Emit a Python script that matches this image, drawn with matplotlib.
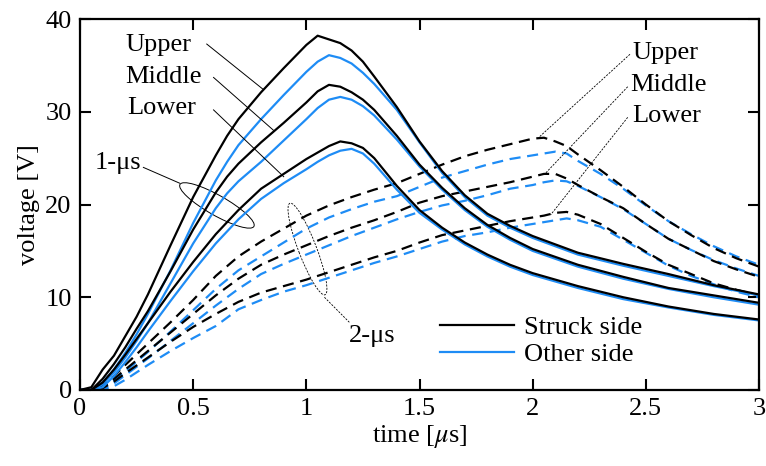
import matplotlib
matplotlib.use("Agg")
import matplotlib.pyplot as plt
from matplotlib.patches import Ellipse
from matplotlib.lines import Line2D
from matplotlib.transforms import IdentityTransform

plt.rcParams['font.family'] = ['Liberation Serif', 'DejaVu Serif']
plt.rcParams['mathtext.fontset'] = 'stix'
plt.rcParams['font.size'] = 19

BLACK = 'black'
BLUE = '#1e8cf5'

# ---- 1-us front (solid) ----
t_solid = [0, 0.05, 0.1, 0.15, 0.2, 0.25, 0.3, 0.4, 0.5, 0.6, 0.65, 0.7, 0.8, 0.9, 1.0,
           1.05, 1.1, 1.15, 1.2, 1.25, 1.3, 1.4, 1.5, 1.6, 1.7, 1.8, 1.9, 2.0,
           2.2, 2.4, 2.6, 2.8, 3.0]
struck_upper_1us = [0, 0.3, 2.2, 3.7, 5.8, 7.9, 10.3, 15.6, 20.8, 25.3, 27.4, 29.2, 32.1, 34.7, 37.2,
                    38.2, 37.8, 37.4, 36.6, 35.4, 33.8, 30.5, 26.8, 23.6, 21.0, 19.0, 17.7, 16.6,
                    14.8, 13.6, 12.5, 11.3, 10.3]
other_upper_1us = [0, 0, 0.8, 2.2, 4.0, 6.0, 8.2, 12.9, 18.0, 22.6, 24.6, 26.4, 29.2, 31.8, 34.3,
                   35.4, 36.1, 35.8, 35.2, 34.2, 33.0, 30.2, 26.7, 23.4, 20.8, 18.8, 17.5, 16.4,
                   14.6, 13.4, 12.3, 11.2, 10.2]
struck_middle_1us = [0, 0, 1.2, 2.8, 4.6, 6.6, 8.5, 12.8, 17.3, 21.3, 23.0, 24.4, 26.7, 28.8, 31.0,
                     32.2, 32.9, 32.7, 32.1, 31.3, 30.2, 27.4, 24.3, 21.8, 19.6, 17.8, 16.4, 15.2,
                     13.5, 12.2, 11.0, 10.2, 9.4]
other_middle_1us = [0, 0, 0.6, 1.9, 3.5, 5.3, 7.2, 11.5, 15.8, 19.6, 21.2, 22.5, 24.6, 26.9, 29.2,
                    30.4, 31.3, 31.6, 31.3, 30.6, 29.6, 27.0, 24.1, 21.6, 19.4, 17.6, 16.2, 15.0,
                    13.3, 12.0, 10.9, 10.0, 9.2]
struck_lower_1us = [0, 0, 0.8, 2.2, 3.8, 5.5, 7.2, 10.6, 13.8, 16.8, 18.1, 19.4, 21.7, 23.3, 24.9,
                    25.6, 26.3, 26.8, 26.6, 26.1, 25.0, 22.0, 19.4, 17.5, 15.9, 14.6, 13.5, 12.6,
                    11.2, 10.0, 9.0, 8.2, 7.6]
other_lower_1us = [0, 0, 0.3, 1.5, 3.0, 4.6, 6.3, 9.6, 12.8, 15.8, 17.1, 18.4, 20.6, 22.3, 23.8,
                   24.6, 25.3, 25.8, 26.0, 25.5, 24.4, 21.6, 19.1, 17.3, 15.7, 14.4, 13.3, 12.4,
                   11.0, 9.8, 8.9, 8.1, 7.5]

# ---- 2-us front (dashed) ----
t_dash = [0, 0.05, 0.1, 0.15, 0.2, 0.3, 0.4, 0.5, 0.6, 0.7, 0.8, 0.9, 1.0, 1.1, 1.2, 1.3,
          1.4, 1.5, 1.6, 1.7, 1.8, 1.9, 2.0, 2.05, 2.1, 2.15, 2.2, 2.3, 2.4, 2.5, 2.6,
          2.7, 2.8, 2.9, 3.0]
struck_upper_2us = [0, 0, 0.5, 1.5, 2.7, 5.0, 7.3, 9.7, 12.3, 14.4, 16.0, 17.4, 18.8, 19.9, 20.8, 21.6,
                    22.3, 23.3, 24.3, 25.2, 25.9, 26.5, 27.1, 27.2, 26.8, 26.3, 25.4, 23.7, 21.9, 20.0, 18.2,
                    16.7, 15.3, 14.2, 13.3]
other_upper_2us = [0, 0, 0.2, 1.0, 2.0, 4.1, 6.3, 8.6, 10.9, 12.9, 14.4, 15.9, 17.4, 18.6, 19.5, 20.3,
                   20.9, 21.9, 22.9, 23.6, 24.3, 24.9, 25.3, 25.5, 25.7, 25.5, 24.7, 23.3, 21.7, 19.9, 18.2,
                   16.8, 15.5, 14.4, 13.5]
struck_middle_2us = [0, 0, 0.3, 1.2, 2.2, 4.2, 6.2, 8.2, 10.2, 12.0, 13.5, 14.6, 15.6, 16.6, 17.5, 18.3,
                     19.2, 20.2, 20.9, 21.4, 21.9, 22.4, 23.0, 23.3, 23.3, 22.8, 22.1, 20.8, 19.6, 17.9, 16.3,
                     15.1, 13.9, 13.0, 12.2]
other_middle_2us = [0, 0, 0.1, 0.7, 1.6, 3.4, 5.3, 7.2, 9.1, 10.9, 12.5, 13.6, 14.6, 15.6, 16.6, 17.5,
                    18.4, 19.2, 19.9, 20.4, 21.0, 21.7, 22.1, 22.4, 22.6, 22.5, 22.0, 20.8, 19.5, 17.9, 16.3,
                    15.1, 14.0, 13.1, 12.3]
struck_lower_2us = [0, 0, 0.2, 0.9, 1.8, 3.5, 5.2, 6.8, 8.2, 9.5, 10.5, 11.2, 11.9, 12.7, 13.5, 14.3,
                    15.0, 15.9, 16.7, 17.2, 17.7, 18.2, 18.6, 18.8, 19.1, 19.2, 18.9, 17.9, 16.4, 14.9, 13.5,
                    12.5, 11.5, 10.8, 10.2]
other_lower_2us = [0, 0, 0, 0.4, 1.1, 2.7, 4.2, 5.6, 6.9, 8.7, 9.7, 10.6, 11.3, 12.1, 12.9, 13.7,
                   14.4, 15.2, 16.0, 16.6, 17.0, 17.5, 17.9, 18.1, 18.3, 18.5, 18.3, 17.6, 16.2, 14.8, 13.4,
                   12.3, 11.4, 10.6, 10.0]

x_ticks = [0, 0.5, 1, 1.5, 2, 2.5, 3]
x_ticklabels = ['0', '0.5', '1', '1.5', '2', '2.5', '3']
y_ticks = [0, 10, 20, 30, 40]

fig = plt.figure(figsize=(7.66, 4.66), dpi=100)
ax = fig.add_axes([80 / 766, 76 / 466, 679 / 766, 371 / 466])

lw = 1.6
dash = (0, (5, 3))
for v in [other_upper_2us, other_middle_2us, other_lower_2us]:
    ax.plot(t_dash, v, color=BLUE, lw=lw, linestyle=dash)
for v in [struck_upper_2us, struck_middle_2us, struck_lower_2us]:
    ax.plot(t_dash, v, color=BLACK, lw=lw, linestyle=dash)
for v in [other_upper_1us, other_middle_1us, other_lower_1us]:
    ax.plot(t_solid, v, color=BLUE, lw=lw)
for v in [struck_upper_1us, struck_middle_1us, struck_lower_1us]:
    ax.plot(t_solid, v, color=BLACK, lw=lw)

ax.set_xlim(0, 3)
ax.set_ylim(0, 40)
ax.set_xticks(x_ticks)
ax.set_xticklabels(x_ticklabels)
ax.set_yticks(y_ticks)
ax.tick_params(direction='in', top=True, right=True, length=8, width=1.5, pad=6)
for s in ax.spines.values():
    s.set_linewidth(1.6)
ax.set_xlabel(r'time [$\mu$s]', labelpad=2)
ax.set_ylabel('voltage [V]', labelpad=4)

# left labels (1-us peaks)
ax.text(0.2, 37.2, 'Upper', va='center')
ax.text(0.2, 33.7, 'Middle', va='center')
ax.text(0.21, 30.4, 'Lower', va='center')
ax.plot([0.56, 0.81], [37.3, 32.4], color='black', lw=0.7)
ax.plot([0.59, 0.855], [33.7, 28.0], color='black', lw=0.7)
ax.plot([0.59, 0.9], [30.2, 23.0], color='black', lw=0.7)

# right labels (2-us peaks)
ax.text(2.44, 36.3, 'Upper', va='center')
ax.text(2.43, 32.9, 'Middle', va='center')
ax.text(2.44, 29.5, 'Lower', va='center')
thin_dash = (0, (2.5, 1.5))
ax.plot([2.43, 2.03], [36.2, 27.3], color='black', lw=0.6, linestyle=thin_dash)
ax.plot([2.42, 2.05], [32.7, 23.2], color='black', lw=0.6, linestyle=thin_dash)
ax.plot([2.42, 2.08], [29.4, 18.9], color='black', lw=0.6, linestyle=thin_dash)

# 1-us ellipse
ax.text(0.065, 24.5, '1-\u03bcs', va='center')
ax.plot([0.28, 0.44], [24.0, 22.3], color='black', lw=0.7)
c1 = ax.transData.transform((0.605, 19.9))
ax.add_patch(Ellipse(c1, 85 * fig.dpi / 100, 20 * fig.dpi / 100, angle=-29.6,
                     transform=IdentityTransform(), fill=False, ec='black', lw=0.7))

# 2-us ellipse
ax.text(1.19, 5.8, '2-\u03bcs', va='center')
ax.plot([1.08, 1.19], [10.0, 7.3], color='black', lw=0.6, linestyle=thin_dash)
c2 = ax.transData.transform((1.005, 15.2))
ax.add_patch(Ellipse(c2, 98 * fig.dpi / 100, 18 * fig.dpi / 100, angle=-69,
                     transform=IdentityTransform(), fill=False, ec='black', lw=0.6,
                     linestyle=thin_dash))

handles = [Line2D([], [], color=BLACK, lw=lw), Line2D([], [], color=BLUE, lw=lw)]
ax.legend(handles, ['Struck side', 'Other side'], loc='upper left',
          bbox_to_anchor=(0.503, 0.25), frameon=False, handlelength=2.8,
          handletextpad=0.4, labelspacing=0.12, borderaxespad=0.3)

fig.savefig('out.png', dpi=100)
